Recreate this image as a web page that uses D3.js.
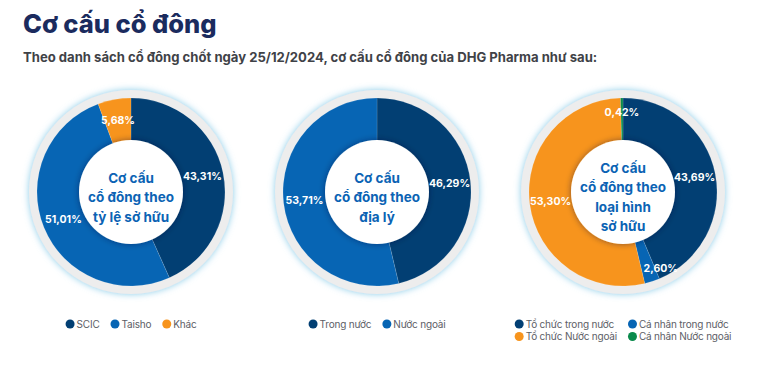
<!DOCTYPE html>
<meta charset="utf-8" />
<script src="https://d3js.org/d3.v7.min.js"></script>
<body style="margin:0;background:#fff">
<svg id="chart" width="769" height="375" style="display:block"></svg>
<script>
/* ── DATA ── */
const title = "Cơ cấu cổ đông";
const subtitle = "Theo danh sách cổ đông chốt ngày 25/12/2024, cơ cấu cổ đông của DHG Pharma như sau:";

const ownerLabels = ["SCIC", "Taisho", "Khác"];
const ownerValues = [43.31, 51.01, 5.68];
const ownerColors = ["#023f73", "#0765b4", "#f7941d"];

const geoLabels = ["Trong nước", "Nước ngoài"];
const geoValues = [46.29, 53.71];
const geoColors = ["#023f73", "#0765b4"];

const typeLabels = ["Tổ chức trong nước", "Cá nhân trong nước", "Tổ chức Nước ngoài", "Cá nhân Nước ngoài"];
const typeValues = [43.69, 2.60, 53.30, 0.42];
const typeColors = ["#023f73", "#0765b4", "#f7941d", "#0a8a4c"];

const centerTexts = [
  ["Cơ cấu", "cổ đông theo", "tỷ lệ sở hữu"],
  ["Cơ cấu", "cổ đông theo", "địa lý"],
  ["Cơ cấu", "cổ đông theo", "loại hình", "sở hữu"]
];

const charts = [
  {labels: ownerLabels, values: ownerValues, colors: ownerColors, center: centerTexts[0], legendCols: 3},
  {labels: geoLabels, values: geoValues, colors: geoColors, center: centerTexts[1], legendCols: 2},
  {labels: typeLabels, values: typeValues, colors: typeColors, center: centerTexts[2], legendCols: 2}
];

/* ── CONFIG ── */
const font = "Inter, 'Noto Sans', sans-serif";
const cxs = [131, 377, 623], cy = 192;
const innerR = 52, outerR = 94, ringR = 102;
const fmt = v => v.toFixed(2).replace(".", ",") + "%";

const svg = d3.select("#chart");
const defs = svg.append("defs");
const glow = defs.append("filter").attr("id", "glow")
  .attr("x", "-20%").attr("y", "-20%").attr("width", "140%").attr("height", "140%");
glow.append("feDropShadow").attr("dx", 0).attr("dy", 0).attr("stdDeviation", 3.5)
  .attr("flood-color", "#7cc6e6").attr("flood-opacity", 0.9);
const shade = defs.append("filter").attr("id", "shade")
  .attr("x", "-30%").attr("y", "-30%").attr("width", "160%").attr("height", "160%");
shade.append("feDropShadow").attr("dx", 0).attr("dy", 0).attr("stdDeviation", 3)
  .attr("flood-color", "#001a33").attr("flood-opacity", 0.45);

/* header */
svg.append("text").attr("x", 23).attr("y", 33)
  .attr("font-family", font).attr("font-size", 25.5).attr("font-weight", 800)
  .attr("fill", "#1b2b5e").text(title);
svg.append("text").attr("x", 23).attr("y", 62)
  .attr("font-family", font).attr("font-size", 13.1).attr("font-weight", 700)
  .attr("fill", "#3f4247").text(subtitle);

const pie = d3.pie().value(d => d).sort(null);
const labelArc = d3.arc().innerRadius(73).outerRadius(73);
const smallArc = d3.arc().innerRadius(80).outerRadius(80);

charts.forEach((c, ci) => {
  const g = svg.append("g").attr("transform", `translate(${cxs[ci]},${cy})`);

  g.append("circle").attr("r", ringR).attr("fill", "#ededed").attr("filter", "url(#glow)");

  const slices = pie(c.values);
  g.selectAll("path.slice").data(slices).join("path")
    .attr("class", "slice")
    .attr("d", d3.arc().innerRadius(0).outerRadius(outerR))
    .attr("fill", (d, i) => c.colors[i])
    .attr("stroke", "rgba(255,255,255,0.25)").attr("stroke-width", 0.5);

  g.append("circle").attr("r", innerR).attr("fill", "#fff").attr("filter", "url(#shade)");

  g.selectAll("text.pct").data(slices).join("text")
    .attr("class", "pct")
    .attr("transform", d => {
      const small = d.data < 3;
      const [x, y] = (small ? smallArc : labelArc).centroid(d);
      const nudge = small && Math.abs(x) > 15 ? Math.sign(x) * 13 : 0;
      return `translate(${x + nudge},${y})`;
    })
    .attr("text-anchor", "middle").attr("dy", "0.35em")
    .attr("font-family", font).attr("font-size", 10.5).attr("font-weight", 700)
    .attr("fill", "#fff").text(d => fmt(d.data));

  const lh = 19.5, n = c.center.length;
  g.append("text").attr("text-anchor", "middle")
    .attr("font-family", font).attr("font-size", 13.5).attr("font-weight", 700)
    .attr("fill", "#0b63b4")
    .selectAll("tspan").data(c.center).join("tspan")
      .attr("x", 0).attr("y", (d, i) => (i - (n - 1) / 2) * lh + 10)
      .text(d => d);

  /* legend */
  const lg = svg.append("g").attr("font-family", font).attr("font-size", 10).attr("fill", "#5d6066")
    .attr("letter-spacing", -0.2);
  const items = c.labels.map((l, i) => ({l, col: c.colors[i]}));
  const tmp = lg.append("text").attr("visibility", "hidden");
  const widths = items.map(d => { tmp.text(d.l); return tmp.node().getComputedTextLength(); });
  tmp.remove();
  const cols = c.legendCols, dot = 4.5, gap = 2, sep = 11;
  const colW = d3.range(cols).map(k => d3.max(widths.filter((w, i) => i % cols === k)) + dot * 2 + gap);
  const totalW = d3.sum(colW) + sep * (cols - 1);
  const x0 = cxs[ci] - totalW / 2;
  items.forEach((d, i) => {
    const k = i % cols, r = Math.floor(i / cols);
    const x = x0 + d3.sum(colW.slice(0, k)) + sep * k, y = 324 + r * 12.5;
    lg.append("circle").attr("cx", x + dot).attr("cy", y).attr("r", dot).attr("fill", d.col);
    lg.append("text").attr("x", x + dot * 2 + gap).attr("y", y).attr("dy", "0.36em").text(d.l);
  });
});
</script>
</body>
